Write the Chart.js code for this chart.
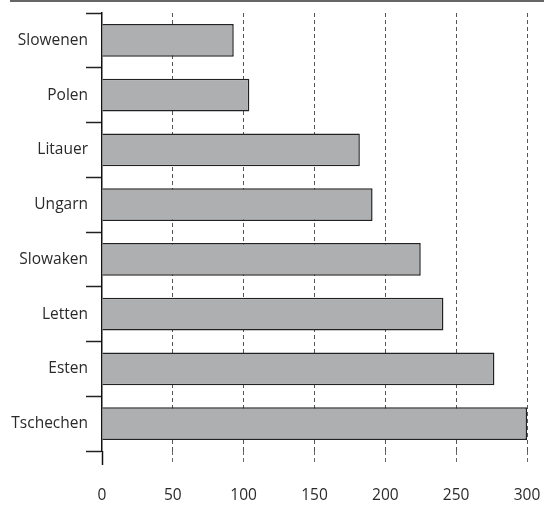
<!DOCTYPE html>
<html>
<head>
<meta charset="utf-8">
<script src="https://cdn.jsdelivr.net/npm/chart.js@4/dist/chart.umd.min.js"></script>
<style>
  html, body { margin: 0; padding: 0; background: #fff; }
  #wrap { width: 544px; height: 517px; }
</style>
</head>
<body>
<div id="wrap"><canvas id="bar-chart" width="544" height="517"></canvas></div>
<script>

let countries = ['Slowenen', 'Polen', 'Litauer', 'Ungarn', 'Slowaken', 'Letten', 'Esten', 'Tschechen'];
let values = [93, 104, 182, 191, 225, 241, 277, 300];
let xTicks = [0, 50, 100, 150, 200, 250, 300];

// grey rule across the top of the figure
const topRule = {
  id: 'topRule',
  beforeDraw(chart) {
    const c = chart.ctx;
    c.save();
    c.fillStyle = '#666';
    c.fillRect(10, 0, 534, 2);
    c.restore();
  }
};

function loadGraph(){
  var ctx = document.getElementById('bar-chart');
  new Chart(ctx, {
    type: 'bar',
    data: {
      labels: countries,
      datasets: [{
        data: values,
        backgroundColor: '#aeafb1',
        borderColor: '#222',
        borderWidth: 1.5,
        barPercentage: 0.6,
        categoryPercentage: 1
      }]
    },
    options: {
      indexAxis: 'y',
      responsive: false,
      animation: false,
      layout: { padding: { top: 13, right: 0, bottom: 0, left: 0 } },
      plugins: {
        legend: { display: false },
        tooltip: { enabled: false }
      },
      scales: {
        x: {
          min: 0,
          max: 300,
          afterBuildTicks: function(scale){
            scale.ticks = xTicks.map(v => ({ value: v }));
          },
          afterFit: function(scale){
            scale.height = 66;
            scale.paddingLeft = 0;
            scale.paddingRight = 17;
          },
          border: { display: false, dash: [4, 3] },
          grid: {
            color: c => c.tick && c.tick.value === 0 ? 'rgba(0,0,0,0)' : '#555',
            lineWidth: 1,
            tickLength: 14,
            tickColor: c => c.tick && c.tick.value === 0 ? '#111' : '#666',
            tickWidth: c => c.tick && c.tick.value === 0 ? 1.5 : 1,
            tickBorderDash: c => c.tick && c.tick.value === 0 ? [] : [4, 3]
          },
          ticks: {
            padding: 21,
            color: '#2a2a2a',
            font: { family: 'Open Sans', size: 15.5 }
          }
        },
        y: {
          afterFit: function(scale){ scale.width = 102; },
          border: { display: true, color: '#111', width: 1.5 },
          grid: {
            offset: true,
            drawOnChartArea: false,
            tickLength: 16,
            tickColor: '#222',
            tickWidth: 1.5
          },
          ticks: {
            padding: -2,
            color: '#2a2a2a',
            font: { family: 'Open Sans', size: 15.5 }
          }
        }
      }
    },
    plugins: [topRule]
  });
}

loadGraph();
</script>
</body>
</html>
